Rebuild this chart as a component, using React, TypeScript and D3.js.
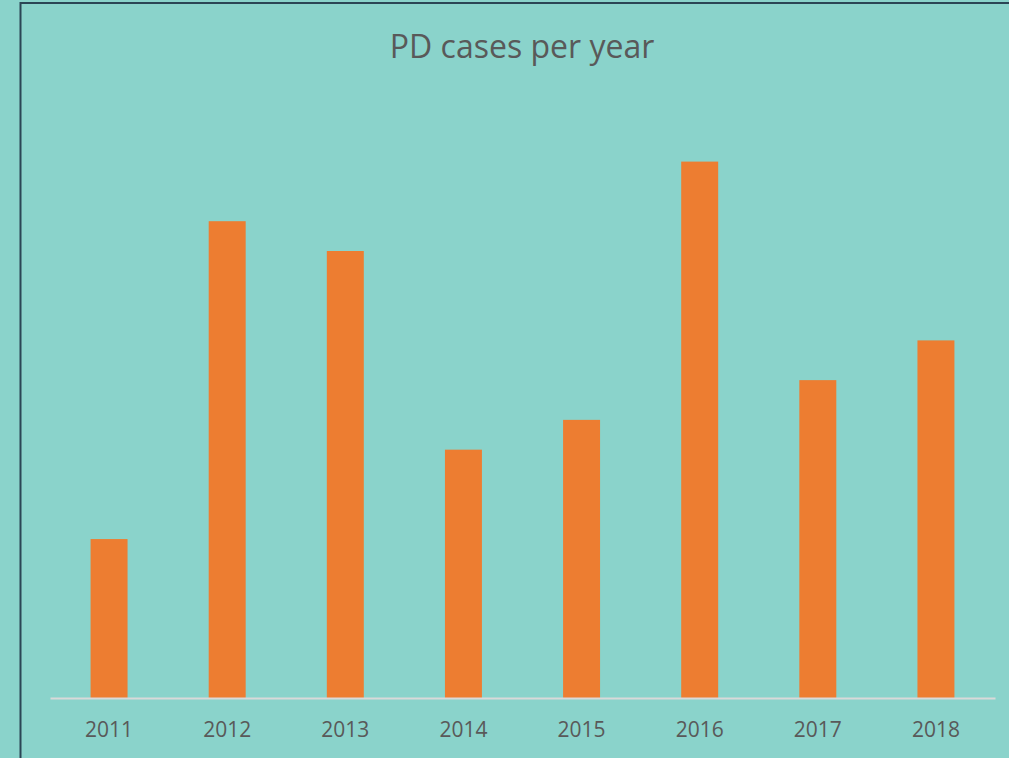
import React, { useRef, useEffect } from "react";
import * as d3 from "d3";

const years = ["2011", "2012", "2013", "2014", "2015", "2016", "2017", "2018"];
const cases = [16, 48, 45, 25, 28, 54, 32, 36];
const title = "PD cases per year";

const App = () => {
  const ref = useRef<SVGSVGElement>(null);

  useEffect(() => {
    const svg = d3.select(ref.current);
    svg.selectAll("*").remove();

    const width = 1009;
    const height = 758;
    const margin = { top: 102, right: 14, bottom: 60, left: 50 };
    const font = "'Open Sans', 'Liberation Sans', sans-serif";

    svg.attr("width", width).attr("height", height);

    svg
      .append("rect")
      .attr("width", width)
      .attr("height", height)
      .attr("fill", "#8AD3CB");

    // dark frame, runs off the right and bottom edges
    svg
      .append("rect")
      .attr("x", 20.5)
      .attr("y", 3)
      .attr("width", width + 20)
      .attr("height", height + 20)
      .attr("fill", "none")
      .attr("stroke", "#2B4555")
      .attr("stroke-width", 2);

    const x = d3
      .scaleBand()
      .domain(years)
      .range([margin.left, width - margin.right])
      .paddingInner(0.687)
      .paddingOuter(0.3435);

    const y = d3
      .scaleLinear()
      .domain([0, 60])
      .range([height - margin.bottom, margin.top]);

    // bars
    svg
      .append("g")
      .selectAll("rect")
      .data(years)
      .join("rect")
      .attr("x", (d) => x(d)!)
      .attr("y", (d, i) => y(cases[i]))
      .attr("width", x.bandwidth())
      .attr("height", (d, i) => y(0) - y(cases[i]))
      .attr("fill", "#ED7D31");

    // x axis
    const xAxis = svg
      .append("g")
      .attr("transform", `translate(0,${y(0)})`)
      .call(d3.axisBottom(x).tickSize(0).tickPadding(24));
    xAxis.select(".domain").attr("stroke", "#D9D9D9").attr("stroke-width", 2);
    xAxis
      .selectAll("text")
      .attr("fill", "#595959")
      .attr("font-size", "21px")
      .attr("font-family", font);

    svg
      .append("text")
      .attr("x", 522)
      .attr("y", 58)
      .attr("text-anchor", "middle")
      .attr("font-size", "32px")
      .attr("font-family", font)
      .attr("fill", "#595959")
      .text(title);
  }, []);

  return (
    <svg
      ref={ref}
      style={{ position: "absolute", left: 0, top: 0, display: "block" }}
    ></svg>
  );
};

export default App;
